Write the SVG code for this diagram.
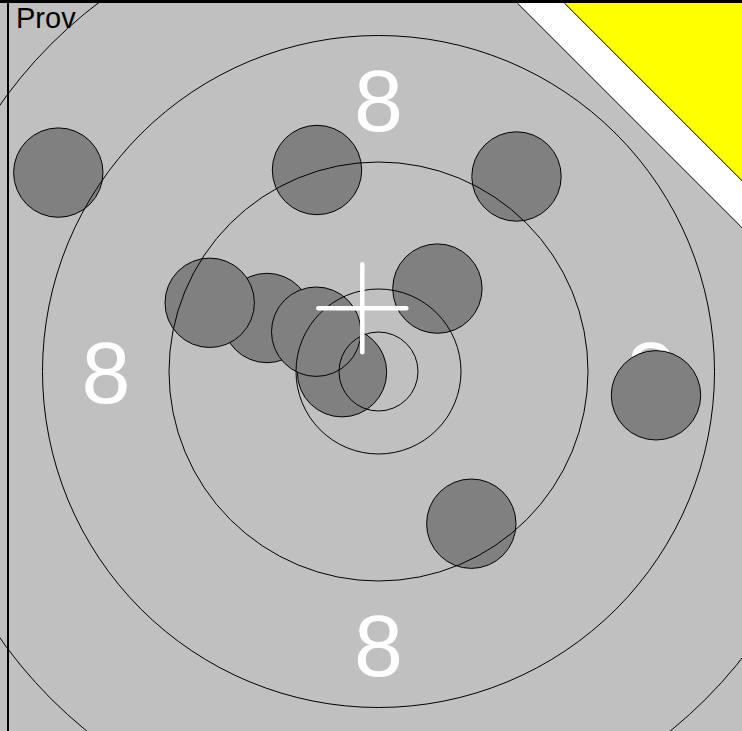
<svg xmlns="http://www.w3.org/2000/svg" width="742" height="731" viewBox="0 0 742 731">
  <style>
    .bg { fill: #c0c0c0; }
    .ring { fill: none; stroke: #000; stroke-width: 1; }
    .shot { fill: #808080; stroke: #000; stroke-width: 1; }
    .num { fill: #fff; font-family: "Liberation Sans", Arial, sans-serif; font-size: 88px; text-anchor: middle; }
    .cross { stroke: #fff; stroke-width: 4.5; stroke-linecap: round; }
    .lbl { fill: #000; font-family: "Liberation Sans", Arial, sans-serif; font-size: 29px; }
  </style>
  <rect class="bg" x="0" y="0" width="742" height="731"/>
  <g id="scores">
    <text class="num" x="378.5" y="131">8</text>
    <text class="num" x="106" y="403">8</text>
    <text class="num" x="651" y="403">8</text>
    <text class="num" x="378.5" y="676">8</text>
  </g>
  <g id="shots">
    <circle id="shot1" class="shot" cx="58.3" cy="172.6" r="44.7"/>
    <circle id="shot2" class="shot" cx="317" cy="170" r="44.7"/>
    <circle id="shot3" class="shot" cx="516.5" cy="176.5" r="44.7"/>
    <circle id="shot7" class="shot" cx="342" cy="372.2" r="44.7"/>
    <circle id="shot5" class="shot" cx="267" cy="318" r="44.7"/>
    <circle id="shot4" class="shot" cx="209.7" cy="302.8" r="44.7"/>
    <circle id="shot6" class="shot" cx="316.2" cy="331.7" r="44.7"/>
    <circle id="shot8" class="shot" cx="437.4" cy="288.6" r="44.7"/>
    <circle id="shot9" class="shot" cx="656" cy="395.3" r="44.7"/>
    <circle id="shot10" class="shot" cx="471.3" cy="523.7" r="44.7"/>
  </g>
  <g id="rings">
    <circle class="ring" cx="378.5" cy="371.5" r="39.5"/>
    <circle class="ring" cx="378.5" cy="371.5" r="82.5"/>
    <circle class="ring" cx="378.5" cy="371.5" r="209.5"/>
    <circle class="ring" cx="378.5" cy="371.5" r="336"/>
    <circle class="ring" cx="378.5" cy="371.5" r="463"/>
  </g>
  <g id="aim">
    <line class="cross" x1="362.3" y1="264.3" x2="362.3" y2="352.3"/>
    <line class="cross" x1="318.3" y1="308.3" x2="406.3" y2="308.3"/>
  </g>
  <g id="corner">
    <polygon points="517.3,3 564.3,3 742,180.7 742,227.7" fill="#fff"/>
    <polygon points="564.3,3 742,3 742,180.7" fill="#ffff00"/>
    <line x1="517.3" y1="3" x2="742" y2="227.7" stroke="#000" stroke-width="1"/>
    <line x1="564.3" y1="3" x2="742" y2="180.7" stroke="#000" stroke-width="1"/>
  </g>
  <g id="frame">
    <line x1="0" y1="1.5" x2="742" y2="1.5" stroke="#000" stroke-width="3"/>
    <line x1="8" y1="0" x2="8" y2="731" stroke="#000" stroke-width="2"/>
  </g>
  <text class="lbl" x="16" y="28.3">Prov</text>
</svg>
